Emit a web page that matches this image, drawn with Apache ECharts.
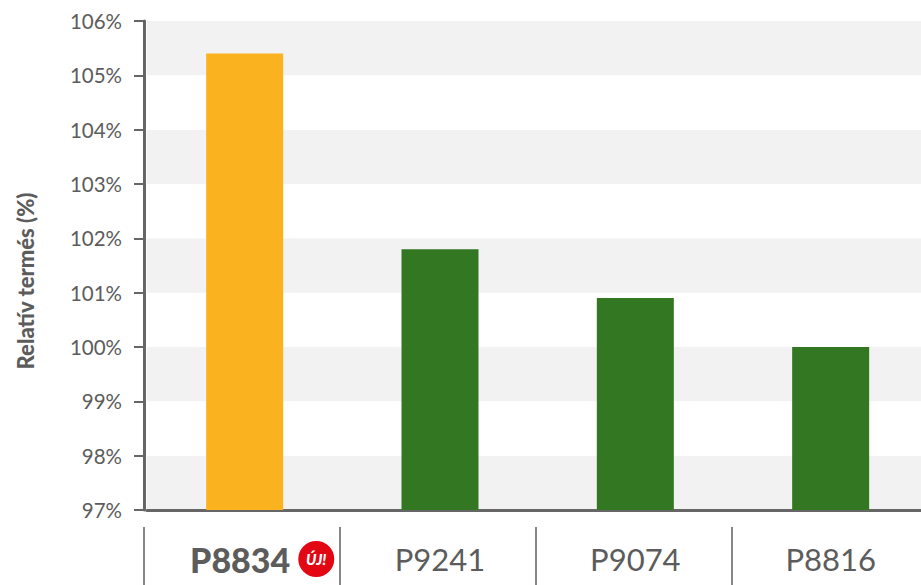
<!DOCTYPE html>
<html>
<head>
<meta charset="utf-8">
<style>
  html, body { margin: 0; padding: 0; background: #fff; }
  #chart { width: 921px; height: 585px; }
</style>
<script src="https://cdn.jsdelivr.net/npm/echarts@6/dist/echarts.min.js"></script>
</head>
<body>
<div id="chart"></div>
<script>
const categories = ['P8834', 'P9241', 'P9074', 'P8816'];
const values = [105.4, 101.8, 100.9, 100];
const barColors = ['#fbb21f', '#337722', '#337722', '#337722'];
const yMin = 97;
const yMax = 106;
const yTitle = 'Relatív termés (%)';
const badge = 'ÚJ!';

const textColor = '#5c5c5c';
const fontFamily = 'Lato, sans-serif';

const myChart = echarts.init(document.getElementById('chart'), null, { renderer: 'svg' });

myChart.setOption({
  animation: false,
  textStyle: { fontFamily: fontFamily },
  grid: [
    { left: 147, top: 21, width: 781.33, height: 489, outerBoundsMode: 'none' }, // oszlopok
    { left: 144, top: 21, width: 784, height: 489, outerBoundsMode: 'none' }     // alsó elválasztók
  ],
  xAxis: [
    {
      type: 'category',
      gridIndex: 0,
      data: categories,
      axisLine: { onZero: false, lineStyle: { color: '#666', width: 3 } },
      axisTick: { show: false },
      axisLabel: {
        interval: 0,
        margin: 49,
        verticalAlign: 'middle',
        fontSize: 31,
        color: textColor,
        fontFamily: fontFamily,
        formatter: function (value, index) {
          if (index === 0) {
            return '{gap|}{main|' + value + '}{space|}{badge|' + badge + '}';
          }
          return value;
        },
        rich: {
          gap: { width: 35 },
          space: { width: 8 },
          main: { fontSize: 34, fontWeight: 900, color: textColor, fontFamily: fontFamily },
          badge: {
            width: 36,
            height: 36,
            lineHeight: 36,
            borderRadius: 18,
            backgroundColor: '#e30613',
            color: '#fff',
            align: 'center',
            fontSize: 15,
            fontWeight: 900,
            fontStyle: 'italic',
            fontFamily: fontFamily
          }
        }
      }
    },
    {
      type: 'category',
      gridIndex: 1,
      data: categories,
      offset: 17,
      axisLine: { show: false },
      axisLabel: { show: false },
      axisTick: { show: true, length: 58, lineStyle: { color: '#888', width: 2 } }
    }
  ],
  yAxis: [
    {
      type: 'value',
      gridIndex: 0,
      min: yMin,
      max: yMax,
      interval: 1,
      offset: 3,
      axisLine: { show: true, lineStyle: { color: '#666', width: 3 } },
      axisTick: { show: true, length: 10, lineStyle: { color: '#666', width: 2 } },
      axisLabel: {
        margin: 22,
        fontSize: 20.5,
        padding: [0, 0, 2, 0],
        color: textColor,
        fontFamily: fontFamily,
        formatter: '{value}%'
      },
      splitLine: { show: false },
      splitArea: { show: true, areaStyle: { color: ['#f2f2f2', '#ffffff'] } }
    },
    {
      type: 'value',
      gridIndex: 1,
      min: yMin,
      max: yMax,
      show: false
    }
  ],
  series: [
    {
      type: 'bar',
      xAxisIndex: 0,
      yAxisIndex: 0,
      barWidth: 77,
      data: values.map((v, i) => ({ value: v, itemStyle: { color: barColors[i] } }))
    }
  ],
  graphic: [
    {
      type: 'text',
      x: 25,
      y: 281,
      rotation: Math.PI / 2,
      style: {
        text: yTitle,
        fill: textColor,
        font: '900 22px ' + fontFamily,
        textAlign: 'center',
        textVerticalAlign: 'middle'
      }
    }
  ]
});
</script>
</body>
</html>
